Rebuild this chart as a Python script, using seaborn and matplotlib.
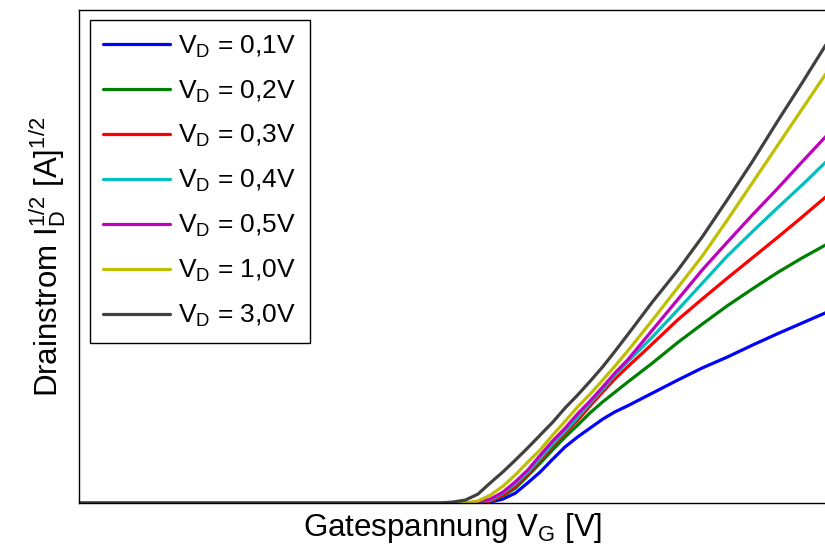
import matplotlib
matplotlib.use("Agg")
import matplotlib.pyplot as plt
import seaborn as sns
import pandas as pd
import numpy as np

sns.set_theme(style="white")
plt.rcParams["font.family"] = ["Liberation Sans", "DejaVu Sans"]
plt.rcParams["text.color"] = "black"
plt.rcParams["axes.labelcolor"] = "black"

# Gatespannung (willkuerliche Skala, keine Ticks im Original)
vg = [0.0, 1.45, 1.5, 1.55, 1.6, 1.65, 1.7, 1.75, 1.8, 1.85, 1.9, 1.95, 2.0,
      2.05, 2.1, 2.15, 2.2, 2.3, 2.4, 2.5, 2.6, 2.7, 2.8, 2.9, 3.0]

# sqrt(I_D)
id_01 = [0, 0, 0, 0, 0, 0.02, 0.08, 0.20, 0.41, 0.63, 0.89, 1.14, 1.34,
         1.52, 1.70, 1.85, 1.97, 2.23, 2.49, 2.74, 2.96, 3.20, 3.43, 3.65, 3.87]
id_02 = [0, 0, 0, 0, 0, 0.04, 0.14, 0.30, 0.55, 0.81, 1.08, 1.34, 1.58,
         1.83, 2.05, 2.25, 2.45, 2.84, 3.25, 3.63, 4.00, 4.34, 4.67, 4.97, 5.25]
id_03 = [0, 0, 0, 0, 0, 0.04, 0.16, 0.34, 0.59, 0.87, 1.16, 1.42, 1.68,
         1.97, 2.25, 2.52, 2.76, 3.23, 3.71, 4.14, 4.56, 4.97, 5.38, 5.80, 6.23]
id_04 = [0, 0, 0, 0, 0.02, 0.06, 0.20, 0.39, 0.63, 0.91, 1.20, 1.46, 1.74,
         2.03, 2.31, 2.60, 2.86, 3.37, 3.91, 4.46, 5.01, 5.50, 5.98, 6.45, 6.94]
id_05 = [0, 0, 0, 0, 0.02, 0.08, 0.22, 0.43, 0.67, 0.97, 1.26, 1.52, 1.81,
         2.07, 2.35, 2.64, 2.90, 3.51, 4.12, 4.73, 5.29, 5.84, 6.37, 6.92, 7.46]
id_10 = [0, 0, 0, 0, 0.04, 0.16, 0.34, 0.57, 0.83, 1.08, 1.38, 1.66, 1.95,
         2.21, 2.49, 2.78, 3.08, 3.71, 4.36, 5.01, 5.74, 6.49, 7.24, 7.99, 8.74]
id_30 = [0, 0, 0.02, 0.06, 0.18, 0.41, 0.63, 0.87, 1.12, 1.38, 1.64, 1.93, 2.19,
         2.47, 2.76, 3.08, 3.41, 4.08, 4.71, 5.40, 6.15, 6.92, 7.73, 8.52, 9.33]

labels = ["0,1V", "0,2V", "0,3V", "0,4V", "0,5V", "1,0V", "3,0V"]
series = [id_01, id_02, id_03, id_04, id_05, id_10, id_30]
colors = ["#0000ff", "#008000", "#ff0000", "#00bfbf", "#bf00bf", "#bfbf00", "#404040"]

rows = []
for lab, vals in zip(labels, series):
    for x, y in zip(vg, vals):
        rows.append({"vg": x, "id": y, "vd": r"V$_\mathregular{D}$ = " + lab})
df = pd.DataFrame(rows)

fig = plt.figure(figsize=(8.25, 5.56), dpi=100)
ax = fig.add_axes([79 / 825, 53 / 556, 748 / 825, 493 / 556])

sns.lineplot(data=df, x="vg", y="id", hue="vd", palette=colors,
             linewidth=2.3, ax=ax, legend=True)

ax.set_xlim(0, 3.0)
ax.set_ylim(0, 10)
ax.set_xticks([])
ax.set_yticks([])
for s in ax.spines.values():
    s.set_color("black")
    s.set_linewidth(1.0)

ax.set_xlabel(r"Gatespannung V$_\mathregular{G}$ [V]", fontsize=22.5, labelpad=6)
ax.set_ylabel(r"Drainstrom I$_\mathregular{D}^\mathregular{1/2}$ [A]$^\mathregular{1/2}$",
              fontsize=22.5, labelpad=8)

leg = ax.legend(loc="upper left", bbox_to_anchor=(0.0147, 0.98), borderaxespad=0,
                fontsize=19, handlelength=2.55, handletextpad=0.3,
                labelspacing=0.70, borderpad=0.5, fancybox=False, framealpha=1)
leg.get_frame().set_edgecolor("black")
leg.get_frame().set_linewidth(1.0)
for line in leg.get_lines():
    line.set_linewidth(2.3)

fig.savefig("out.png", dpi=100)
